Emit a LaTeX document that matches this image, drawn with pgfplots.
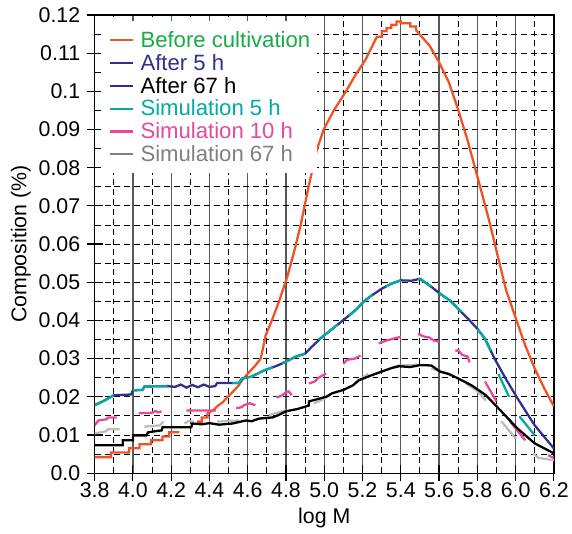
\documentclass[border=0pt]{standalone}
\usepackage{fontspec}
\setmainfont{Liberation Sans}
\usepackage{pgfplots}
\pgfplotsset{compat=1.18}

\definecolor{corange}{RGB}{240,82,36}
\definecolor{cblue}{RGB}{46,49,146}
\definecolor{cteal}{RGB}{0,172,160}
\definecolor{cpink}{RGB}{232,72,152}
\definecolor{cgray}{RGB}{188,188,188}
\definecolor{cgraytxt}{RGB}{128,128,128}
\definecolor{cgreen}{RGB}{22,172,72}

\newcommand{\fnt}{\fontsize{21.5}{25}\selectfont}
\newcommand{\lfnt}{\fontsize{22.3}{26}\selectfont}

\begin{document}
\begin{tikzpicture}
\begin{axis}[
    scale only axis,
    width=461bp, height=460bp,
    xmin=3.8, xmax=6.2,
    ymin=0, ymax=0.12,
    xtick={3.8,4.0,4.2,4.4,4.6,4.8,5.0,5.2,5.4,5.6,5.8,6.0,6.2},
    xticklabels={3.8,4.0,4.2,4.4,4.6,4.8,5.0,5.2,5.4,5.6,5.8,6.0,6.2},
    minor xtick={3.9,4.1,4.3,4.5,4.7,4.9,5.1,5.3,5.5,5.7,5.9,6.1},
    ytick={0,0.01,0.02,0.03,0.04,0.05,0.06,0.07,0.08,0.09,0.1,0.11,0.12},
    yticklabels={0.0,0.01,0.02,0.03,0.04,0.05,0.06,0.07,0.08,0.09,0.1,0.11,0.12},
    minor ytick={0.005,0.015,0.025,0.035,0.045,0.055,0.065,0.075,0.085,0.095,0.105,0.115},
    tick align=center, xtick pos=bottom, ytick pos=left,
    major tick length=16bp, minor tick length=0pt,
    major tick style={black, line width=1.2pt, solid},
    axis line style={line width=1.3pt},
    grid=both,
    major x grid style={black!65, line width=1.3pt, solid},
    minor x grid style={black, line width=0.9pt, dash pattern=on 6pt off 4pt},
    major y grid style={black, line width=0.9pt, dash pattern=on 6pt off 4pt},
    minor y grid style={black, line width=0.9pt, dash pattern=on 6pt off 4pt},
    tick label style={font=\fnt},
    yticklabel style={xshift=-3bp},
    xticklabel style={yshift=2bp},
    label style={font=\fnt},
    xlabel={log M},
    xlabel style={yshift=-3bp},
    ylabel={Composition (\%)},
    ylabel shift=1bp,
    unbounded coords=jump,
    every axis plot/.append style={line width=2.3pt},
    legend cell align=left,
    legend style={font=\lfnt, at={(0,1)}, anchor=north west, xshift=6bp, yshift=-6bp,
        draw=none, fill=white,
        inner xsep=4pt, inner ysep=8.5pt, row sep=1.3pt, nodes={inner xsep=2.7pt}},
    legend image code/.code={\path (-4.5pt,0pt); \draw[#1,line width=2.3pt] (0pt,0pt) -- (23pt,0pt); \path (26.5pt,0pt);},
]

% Before cultivation
\addplot[corange, forget plot] coordinates {
(3.80,0.0042)(3.887,0.0042)(3.887,0.0054)(3.98,0.0054)(3.98,0.0065)(4.034,0.0065)
(4.034,0.0076)(4.095,0.0076)(4.095,0.0086)(4.155,0.0086)(4.155,0.0096)(4.19,0.0096)
(4.19,0.0107)(4.243,0.0107)
(4.26,nan)
(4.335,0.0135)(4.36,0.0135)(4.36,0.0146)(4.39,0.0146)(4.39,0.0157)(4.42,0.0165)
(4.44,0.0175)(4.47,0.0186)(4.49,0.0197)(4.52,0.0212)(4.55,0.0228)(4.57,0.0243)
(4.61,0.0266)(4.64,0.0282)(4.668,0.0300)(4.694,0.0361)(4.73,0.0405)(4.763,0.0449)
(4.806,0.0513)(4.84,0.0575)(4.876,0.0648)(4.919,0.0752)(4.962,0.0848)(4.997,0.0900)
(5.05,0.0950)(5.11,0.0997)(5.16,0.1040)(5.216,0.1083)(5.275,0.1143)(5.30,0.1143)
(5.30,0.1157)(5.325,0.1157)(5.325,0.1166)(5.35,0.1166)(5.35,0.1174)(5.378,0.1174)
(5.378,0.1183)(5.40,0.1183)(5.40,0.1178)(5.45,0.1178)(5.45,0.1170)(5.48,0.1170)
(5.48,0.1160)(5.50,0.1148)(5.55,0.1120)(5.596,0.1080)(5.65,0.1025)(5.70,0.0952)
(5.75,0.0870)(5.804,0.0770)(5.86,0.0665)(5.908,0.0566)(5.95,0.0480)(6.002,0.0404)
(6.05,0.0335)(6.10,0.0274)(6.15,0.0222)(6.20,0.0175)
};

% After 5 h
\addplot[cblue, forget plot] coordinates {
(3.80,0.0178)(3.85,0.0190)(3.90,0.0204)(3.99,0.0206)(4.00,0.0217)(4.05,0.0218)
(4.06,0.0227)(4.18,0.0228)(4.22,0.0226)(4.25,0.0232)(4.28,0.0224)(4.31,0.0231)
(4.34,0.0225)(4.37,0.0232)(4.40,0.0226)(4.43,0.0228)(4.44,0.0236)(4.555,0.0236)
(4.57,0.0248)(4.62,0.0253)(4.69,0.0270)(4.73,0.0277)(4.765,0.0284)(4.80,0.0292)
(4.85,0.0305)(4.90,0.0313)(4.935,0.0331)(4.99,0.0357)(5.01,0.0365)(5.075,0.0391)
(5.127,0.0412)(5.17,0.0430)(5.205,0.0449)(5.247,0.0465)(5.30,0.0483)(5.35,0.0496)
(5.40,0.0505)(5.455,0.0504)(5.50,0.0509)(5.56,0.0488)(5.605,0.0470)(5.66,0.0451)
(5.716,0.0422)(5.76,0.0400)(5.80,0.0378)(5.84,0.0352)(5.89,0.0300)(5.95,0.0246)
(6.01,0.0196)(6.10,0.0125)(6.20,0.0065)
};

% Simulation 5 h
\addplot[cteal, forget plot] coordinates {
(3.80,0.0178)(3.85,0.0190)(3.90,0.0204)(3.92,nan)
(4.00,0.0217)(4.05,0.0218)(4.06,0.0227)(4.18,0.0228)(4.20,nan)
(4.52,0.0236)(4.555,0.0236)(4.57,0.0248)(4.62,0.0253)(4.69,0.0270)(4.73,0.0277)(4.75,nan)
(4.78,0.0288)(4.80,0.0292)(4.85,0.0305)(4.90,0.0313)(4.93,nan)
(4.97,0.0350)(4.99,0.0357)(5.01,0.0365)(5.07,0.0389)(5.10,nan)
(5.13,0.0412)(5.17,0.0430)(5.205,0.0449)(5.25,0.0466)(5.28,nan)
(5.32,0.0488)(5.35,0.0496)(5.40,0.0505)(5.44,nan)
(5.49,0.0508)(5.50,0.0509)(5.56,0.0488)(5.58,nan)
(5.60,0.0472)(5.66,0.0451)(5.716,0.0422)(5.75,nan)
(5.80,0.0378)(5.84,0.0352)(5.87,0.0320)(5.89,nan)
(5.91,0.0260)(5.966,0.0200)(5.99,nan)
(6.02,0.0149)(6.10,0.0099)
};

% Simulation 10 h
\addplot[cpink, forget plot] coordinates {
(3.80,0.0125)(3.82,0.0138)(3.86,0.0141)(3.87,0.0146)(3.915,0.0146)(3.95,nan)
(4.03,0.0157)(4.10,0.0158)(4.12,0.0163)(4.13,0.0159)(4.15,0.0162)(4.20,nan)
(4.28,0.0164)(4.435,0.0164)(4.48,nan)
(4.54,0.0170)(4.57,0.0173)(4.58,0.0178)(4.61,0.0183)(4.64,0.0178)(4.70,nan)
(4.75,0.0198)(4.78,0.0204)(4.80,0.0212)(4.815,0.0214)(4.83,0.0204)(4.87,nan)
(4.92,0.0235)(4.95,0.0240)(4.97,0.0250)(5.01,0.0261)(5.05,nan)
(5.10,0.0287)(5.12,0.0297)(5.16,0.0300)(5.19,0.0308)(5.24,nan)
(5.285,0.0340)(5.33,0.0348)(5.36,0.0352)(5.40,0.0357)(5.44,nan)
(5.49,0.0365)(5.52,0.0358)(5.55,0.0355)(5.57,0.0348)(5.60,0.0344)(5.64,nan)
(5.685,0.0320)(5.70,0.0322)(5.72,0.0310)(5.75,0.0305)(5.76,0.0290)(5.80,nan)
(5.84,0.0240)(5.90,0.0188)(5.93,nan)
(5.97,0.0136)(6.05,0.0086)(6.10,nan)
(6.17,0.0047)(6.20,0.0040)
};

% Simulation 67 h
\addplot[cgray, forget plot] coordinates {
(3.80,0.0104)(3.86,0.0110)(3.87,0.0115)(3.93,0.0115)(3.98,nan)
(4.06,0.0122)(4.14,0.0125)(4.16,0.0135)(4.20,nan)
(4.27,0.0130)(4.29,0.0136)(4.32,0.0135)(4.38,nan)
(4.44,0.0135)(4.555,0.0138)(4.62,nan)
(4.71,0.0152)(4.80,0.0165)(4.88,nan)
(4.945,0.0183)(4.98,0.0190)(5.03,0.0204)(5.09,nan)
(5.16,0.0235)(5.20,0.0250)(5.23,0.0260)(5.30,nan)
(5.35,0.0276)(5.39,0.0282)(5.49,0.0284)(5.52,nan)
(5.56,0.0274)(5.60,0.0268)(5.665,0.0256)(5.70,nan)
(5.74,0.0235)(5.80,0.0215)(5.845,0.0190)(5.89,nan)
(5.925,0.0136)(6.00,0.0091)(6.05,nan)
(6.09,0.0052)(6.12,0.0040)(6.20,0.0034)
};

% After 67 h
\addplot[black, forget plot] coordinates {
(3.80,0.0073)(3.947,0.0073)(3.947,0.0086)(4.00,0.0086)(4.00,0.0099)(4.07,0.0099)
(4.08,0.0107)(4.12,0.0110)(4.15,0.0112)(4.155,0.0120)(4.305,0.0120)(4.31,0.0130)
(4.36,0.0128)(4.40,0.0131)(4.45,0.0127)(4.52,0.0130)(4.59,0.0138)(4.62,0.0136)
(4.66,0.0143)(4.73,0.0146)(4.76,0.0152)(4.80,0.0162)(4.86,0.0168)(4.919,0.0177)
(4.92,0.0188)(5.01,0.0200)(5.04,0.0209)(5.10,0.0218)(5.15,0.0230)(5.18,0.0243)
(5.24,0.0255)(5.30,0.0266)(5.35,0.0275)(5.39,0.0280)(5.45,0.0278)(5.50,0.0283)
(5.56,0.0282)(5.605,0.0266)(5.65,0.0260)(5.70,0.0248)(5.77,0.0230)(5.845,0.0204)
(5.91,0.0170)(6.01,0.0117)(6.10,0.0078)(6.20,0.0052)
};

\addlegendimage{corange}
\addlegendentry{\textcolor{cgreen}{Before cultivation}}
\addlegendimage{cblue}
\addlegendentry{\textcolor{cblue}{After 5 h}}
\addlegendimage{cblue}
\addlegendentry{\textcolor{black}{After 67 h}}
\addlegendimage{cteal}
\addlegendentry{\textcolor{cteal}{Simulation 5 h}}
\addlegendimage{cpink}
\addlegendentry{\textcolor{cpink}{Simulation 10 h}}
\addlegendimage{cgraytxt}
\addlegendentry{\textcolor{cgraytxt}{Simulation 67 h}}
\end{axis}
\path ([yshift=15bp]current axis.north west);
\path ([yshift=-61bp]current axis.south west);
\path ([xshift=-95bp]current axis.south west);
\end{tikzpicture}
\end{document}
